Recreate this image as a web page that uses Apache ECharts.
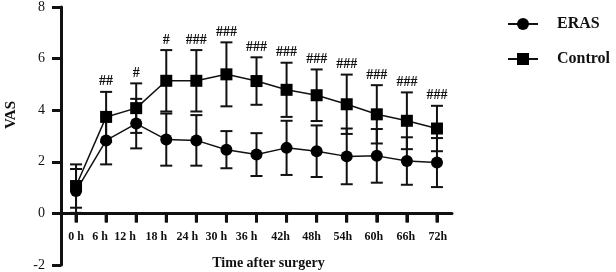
<!DOCTYPE html>
<html style="height: 100%">
	<head>
		<meta charset="utf-8">
	</head>
	<body style="height: 100%; margin: 0; background: #fff">
		<div id="container" style="width: 616px; height: 272px"></div>

		<script type="text/javascript" src="https://cdn.jsdelivr.net/npm/echarts@6/dist/echarts.min.js"></script>
		<script type="text/javascript">
			// time points (tick labels as printed in the figure)
			const timeLabels = ['0 h', '6 h', '12 h', '18 h', '24 h', '30 h', '36 h', '42h', '48h', '54h', '60h', '66h', '72h'];

			// VAS mean and SD
			const erasMean = [0.87, 2.83, 3.48, 2.86, 2.83, 2.47, 2.28, 2.54, 2.41, 2.21, 2.23, 2.03, 1.97];
			const erasSd = [0.85, 0.93, 0.96, 1.01, 0.98, 0.72, 0.83, 1.05, 1.00, 1.08, 1.04, 0.92, 0.95];
			const controlMean = [1.06, 3.74, 4.08, 5.14, 5.14, 5.39, 5.13, 4.79, 4.58, 4.23, 3.84, 3.59, 3.29];
			const controlSd = [0.84, 0.97, 0.96, 1.19, 1.19, 1.24, 0.92, 1.05, 1.00, 1.15, 1.13, 1.10, 0.88];

			// significance marks above the Control bars
			const sigMarks = ['', '##', '#', '#', '###', '###', '###', '###', '###', '###', '###', '###', '###'];

			var dom = document.getElementById("container");
			var myChart = echarts.init(dom);
			var serif = '"Liberation Serif", "Times New Roman", serif';

			// the printed labels sit a little left of their ticks
			var labelNudge = [0, -6, -11, -10, -9, -10, -10, -6, -5, -4, -3, -1, 1];
			var labelRich = {};
			timeLabels.forEach(function(t, i) {
				var s = labelNudge[i];
				labelRich['p' + i] = {
					fontFamily: serif,
					fontWeight: 'bold',
					fontSize: 12,
					color: '#111',
					padding: s < 0 ? [0, -2 * s, 0, 0] : [0, 0, 0, 2 * s]
				};
			});

			function barData(mean, sd) {
				return mean.map(function(m, i) {
					return [i, m - sd[i], m + sd[i]];
				});
			}

			function errorBars(withMarks, withTicks) {
				return function(params, api) {
					var i = api.value(0);
					var lo = api.coord([i, api.value(1)]);
					var hi = api.coord([i, api.value(2)]);
					var w = 6;
					var st = { stroke: '#111', lineWidth: 2 };
					var children = [
						{ type: 'line', shape: { x1: lo[0], y1: lo[1], x2: hi[0], y2: hi[1] }, style: st },
						{ type: 'line', shape: { x1: lo[0] - w, y1: lo[1], x2: lo[0] + w, y2: lo[1] }, style: st },
						{ type: 'line', shape: { x1: hi[0] - w, y1: hi[1], x2: hi[0] + w, y2: hi[1] }, style: st }
					];
					if (withTicks) {
						// x tick under the zero line
						var z = api.coord([i, 0]);
						children.push({
							type: 'line',
							shape: { x1: z[0], y1: z[1], x2: z[0], y2: z[1] + 9 },
							style: { stroke: '#111', lineWidth: 3 }
						});
					}
					if (withMarks && sigMarks[i]) {
						children.push({
							type: 'text',
							style: {
								text: sigMarks[i],
								x: hi[0],
								y: hi[1] - 3,
								align: 'center',
								verticalAlign: 'bottom',
								fill: '#111',
								font: 'bold 14px ' + serif
							}
						});
					}
					return { type: 'group', children: children };
				};
			}

			var gridTop = 7, gridBottom = 7, gridH = 272 - gridTop - gridBottom;
			var yMin = -2, yMax = 8;

			var option = {
				animation: false,
				grid: { left: 61, right: 164, top: gridTop, bottom: gridBottom, containLabel: false, outerBoundsMode: 'none' },
				legend: {
					data: ['ERAS', 'Control'],
					orient: 'vertical',
					left: 502,
					top: 11,
					itemWidth: 30,
					itemHeight: 15,
					itemGap: 19,
					textStyle: {
						fontFamily: serif,
						fontWeight: 'bold',
						fontSize: 16,
						color: '#111',
						padding: [0, 0, 0, 14]
					}
				},
				xAxis: {
					type: 'category',
					data: timeLabels,
					boundaryGap: true,
					// lift the axis from the grid bottom up to y = 0
					offset: -gridH * (0 - yMin) / (yMax - yMin),
					name: 'Time after surgery',
					nameLocation: 'middle',
					nameGap: 43,
					nameTextStyle: {
						fontFamily: serif,
						fontWeight: 'bold',
						fontSize: 14,
						color: '#111',
						padding: [0, 0, 0, 24]
					},
					axisLine: { onZero: false, lineStyle: { color: '#111', width: 3 } },
					axisTick: { show: true, alignWithLabel: true, length: 9, lineStyle: { color: '#111', width: 3 } },
					axisLabel: {
						interval: 0,
						margin: 18,
						formatter: function(v, i) {
							return '{p' + i + '|' + v + '}';
						},
						rich: labelRich
					}
				},
				yAxis: {
					type: 'value',
					min: yMin,
					max: yMax,
					interval: 2,
					name: 'VAS',
					nameLocation: 'middle',
					nameRotate: 90,
					nameGap: 42,
					nameTextStyle: {
						fontFamily: serif,
						fontWeight: 'bold',
						fontSize: 15,
						color: '#111',
						padding: [0, 0, 0, 42]
					},
					splitLine: { show: false },
					axisLine: { show: true, lineStyle: { color: '#111', width: 3 } },
					axisTick: { show: true, length: 9, lineStyle: { color: '#111', width: 3 } },
					axisLabel: {
						margin: 16,
						fontFamily: serif,
						fontSize: 14,
						color: '#111'
					}
				},
				series: [{
						type: 'custom',
						name: 'ERAS sd',
						renderItem: errorBars(false, true),
						data: barData(erasMean, erasSd),
						clip: false,
						z: 3
					},
					{
						type: 'custom',
						name: 'Control sd',
						renderItem: errorBars(true, false),
						data: barData(controlMean, controlSd),
						z: 3
					},
					{
						type: 'line',
						name: 'ERAS',
						data: erasMean,
						symbol: 'circle',
						symbolSize: 12,
						color: '#000',
						lineStyle: { color: '#111', width: 1.5 },
						itemStyle: { color: '#000' },
						z: 4
					},
					{
						type: 'line',
						name: 'Control',
						data: controlMean,
						symbol: 'rect',
						symbolSize: 12,
						color: '#000',
						lineStyle: { color: '#111', width: 1.5 },
						itemStyle: { color: '#000' },
						z: 4
					}
				]
			};

			if (option && typeof option === 'object') {
				myChart.setOption(option);
			}
		</script>
	</body>
</html>
